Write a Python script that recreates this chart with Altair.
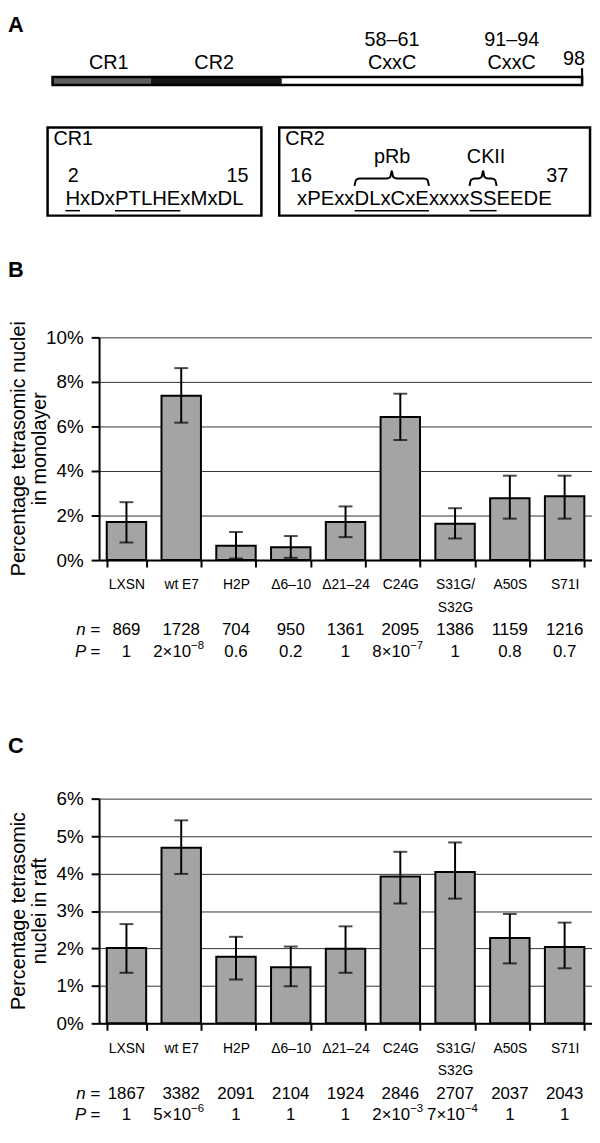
import altair as alt
import pandas as pd

FONT = "Liberation Sans"

# ---------------- Panel A data ----------------
seg_start = [1, 19, 43]
seg_end = [19, 43, 98]
seg_fill = ["#5e5e5e", "#161616", "#ffffff"]

a_label_text = ["CR1", "CR2", "58–61", "CxxC", "91–94", "CxxC", "98"]
a_label_res = [11.3, 30.6, 63.2, 63.2, 85.1, 85.1, 96.5]
a_label_row = [50, 50, 27, 50, 27, 50, 46]

seq1 = "HxDxPTLHExMxDL"
seq2 = "xPExxDLxCxExxxxSSEEDE"
seq1_under = [(0, 1), (4, 9)]
seq2_under = [(5, 11), (15, 17)]

# ---------------- Panels B / C data ----------------
categories = ["LXSN", "wt E7", "H2P", "Δ6–10", "Δ21–24", "C24G", "S31G/S32G", "A50S", "S71I"]

b_mean = [1.71, 7.38, 0.64, 0.58, 1.71, 6.42, 1.63, 2.78, 2.87]
b_lo = [0.79, 6.17, 0.07, 0.10, 1.03, 5.39, 0.97, 1.86, 1.86]
b_hi = [2.60, 8.62, 1.26, 1.08, 2.41, 7.47, 2.33, 3.79, 3.79]
b_n = ["869", "1728", "704", "950", "1361", "2095", "1386", "1159", "1216"]
b_p = ["1", "2×10^−8", "0.6", "0.2", "1", "8×10^−7", "1", "0.8", "0.7"]

c_mean = [2.01, 4.69, 1.78, 1.50, 1.99, 3.92, 4.04, 2.28, 2.04]
c_lo = [1.35, 3.99, 1.17, 0.99, 1.35, 3.20, 3.33, 1.60, 1.47]
c_hi = [2.65, 5.42, 2.31, 2.05, 2.59, 4.58, 4.83, 2.92, 2.69]
c_n = ["1867", "3382", "2091", "2104", "1924", "2846", "2707", "2037", "2043"]
c_p = ["1", "5×10^−6", "1", "1", "1", "2×10^−3", "7×10^−4", "1", "1"]

# Arial / Liberation Sans advance widths (em) for layout of underlines
CW = {"H": .722, "x": .5, "D": .722, "P": .667, "T": .611, "L": .556, "E": .667,
      "M": .833, "C": .722, "S": .667}
SEQ_SIZE = 20.5


def char_span(seq, i0, i1, left, size):
    a = left + sum(CW[c] for c in seq[:i0]) * size
    b = left + sum(CW[c] for c in seq[:i1]) * size
    return a, b


res_scale = alt.Scale(domain=[1, 98], range=[-47, 488], nice=False, zero=False)
pix_x = alt.Scale(domain=[-100, 500], range=[-100, 500], nice=False, zero=False)
pix_y = alt.Scale(domain=[0, 220], range=[0, 220], nice=False, zero=False)

# protein bar
seg_df = pd.DataFrame({"s": seg_start, "e": seg_end, "f": seg_fill, "y1": 64, "y2": 72})
segs = alt.Chart(seg_df).mark_rect(strokeWidth=0).encode(
    x=alt.X("s:Q", scale=res_scale, axis=None), x2="e:Q",
    y=alt.Y("y1:Q", scale=pix_y, axis=None), y2="y2:Q",
    fill=alt.Fill("f:N", scale=None))
outline = alt.Chart(pd.DataFrame({"s": [seg_start[0]], "e": [seg_end[-1]], "y1": [64], "y2": [72]})).mark_rect(
    fillOpacity=0, stroke="black", strokeWidth=2.5).encode(
    x=alt.X("s:Q", scale=res_scale, axis=None), x2="e:Q",
    y=alt.Y("y1:Q", scale=pix_y, axis=None), y2="y2:Q")
endtick = alt.Chart(pd.DataFrame({"r": [98], "y1": [55], "y2": [72]})).mark_rule(
    color="black", strokeWidth=2).encode(
    x=alt.X("r:Q", scale=res_scale, axis=None),
    y=alt.Y("y1:Q", scale=pix_y, axis=None), y2="y2:Q")
alabels = alt.Chart(pd.DataFrame({"t": a_label_text, "r": a_label_res, "ty": a_label_row})).mark_text(
    font=FONT, fontSize=20, baseline="middle", align="center", color="black").encode(
    x=alt.X("r:Q", scale=res_scale, axis=None),
    y=alt.Y("ty:Q", scale=pix_y, axis=None), text="t:N")

# boxes
box_df = pd.DataFrame({"x1": [-52, 182], "x2": [164, 496], "y1": [115, 115], "y2": [204, 204]})
boxes = alt.Chart(box_df).mark_rect(fillOpacity=0, stroke="black", strokeWidth=2.5).encode(
    x=alt.X("x1:Q", scale=pix_x, axis=None), x2="x2:Q",
    y=alt.Y("y1:Q", scale=pix_y, axis=None), y2="y2:Q")


def ptext(texts, xs, ys, align, size=20, weight="normal"):
    df = pd.DataFrame({"t": texts, "px": xs, "py": ys})
    return alt.Chart(df).mark_text(font=FONT, fontSize=size, align=align, baseline="middle",
                                   fontWeight=weight, color="black").encode(
        x=alt.X("px:Q", scale=pix_x, axis=None),
        y=alt.Y("py:Q", scale=pix_y, axis=None), text="t:N")


seq1_left, seq2_left = -34, 200
t_left = ptext(["CR1", "CR2", "16"], [-46, 188, 193], [127, 127, 164], "left")
t_seq = ptext([seq1, seq2], [seq1_left, seq2_left], [187, 187], "left", SEQ_SIZE)
t_center = ptext(["2", "pRb", "CKII"], [-26, 296, 391], [164, 145, 145], "center")
t_right = ptext(["15", "37"], [151, 474], [164, 164], "right")

ul_rows = []
for (i0, i1) in seq1_under:
    a, b = char_span(seq1, i0, i1, seq1_left, SEQ_SIZE)
    ul_rows.append({"ux1": a, "ux2": b, "uy": 199})
for (i0, i1) in seq2_under:
    a, b = char_span(seq2, i0, i1, seq2_left, SEQ_SIZE)
    ul_rows.append({"ux1": a, "ux2": b, "uy": 199})
underlines = alt.Chart(pd.DataFrame(ul_rows)).mark_rule(color="black", strokeWidth=1.5).encode(
    x=alt.X("ux1:Q", scale=pix_x, axis=None), x2="ux2:Q",
    y=alt.Y("uy:Q", scale=pix_y, axis=None))

brace_rows = []
for k, (i0, i1) in enumerate(seq2_under):
    x0, x1 = char_span(seq2, i0, i1, seq2_left, SEQ_SIZE)
    xc = (x0 + x1) / 2
    yt, yb = 159, 174
    ym = (yt + yb) / 2
    pts = [(x0, yb), (x0 + 1.5, ym + 1.5), (x0 + 5, ym), (xc - 5, ym), (xc - 1.5, ym - 1.5), (xc, yt),
           (xc + 1.5, ym - 1.5), (xc + 5, ym), (x1 - 5, ym), (x1 - 1.5, ym + 1.5), (x1, yb)]
    for (bx, by) in pts:
        brace_rows.append({"bx": bx, "by": by, "bid": k})
braces = alt.Chart(pd.DataFrame(brace_rows)).mark_line(color="black", strokeWidth=2,
                                                        interpolate="monotone").encode(
    x=alt.X("bx:Q", scale=pix_x, axis=None),
    y=alt.Y("by:Q", scale=pix_y, axis=None), detail="bid:N")

letterA = ptext(["A"], [-92], [11], "left", 22, "bold")

panelA = alt.layer(segs, outline, endtick, alabels, boxes, t_left, t_seq, t_center, t_right,
                   underlines, braces, letterA).resolve_scale(x="independent").properties(
    width=498, height=86)


# ---------------- bar panels ----------------
def bar_panel(letter, letter_y, mean, lo, hi, n, p, ymax, step, title_lines, h):
    plain = [v if "^" not in v else "" for v in p]
    base_s = [v.split("^")[0] if "^" in v else "" for v in p]
    exp_s = [v.split("^")[1] if "^" in v else "" for v in p]
    df = pd.DataFrame({"cat": categories, "mean": mean, "lo": lo, "hi": hi, "n": n,
                       "p": plain, "pb": base_s, "pe": exp_s})
    xs = alt.X("cat:N", sort=categories,
               scale=alt.Scale(paddingInner=0.28, paddingOuter=0.14),
               axis=alt.Axis(title=None, labelAngle=0, tickBand="extent", ticks=True, tickSize=7,
                             tickWidth=2, tickColor="black", domainColor="black", domainWidth=2,
                             labelFont=FONT, labelFontSize=14, labelColor="black", labelPadding=11,
                             labelLineHeight=23, grid=False,
                             labelExpr="datum.label == 'S31G/S32G' ? ['S31G/', 'S32G'] : datum.label"))
    yscale = alt.Scale(domain=[0, ymax], nice=False)
    yaxis = alt.Axis(title=None, values=list(range(0, ymax + 1, step)),
                     labelExpr="datum.value + '%'", grid=True, gridColor="#333",
                     gridWidth=1, tickSize=8, tickWidth=2, tickColor="black",
                     domainColor="black", domainWidth=2, labelFont=FONT, labelFontSize=19,
                     labelPadding=8, labelColor="black")
    base = alt.Chart(df)
    bars = base.mark_bar(fill="#a4a4a4", stroke="black", strokeWidth=2).encode(
        x=xs, y=alt.Y("mean:Q", scale=yscale, axis=yaxis))
    err = base.mark_rule(color="black", strokeWidth=2).encode(
        x=xs, y=alt.Y("lo:Q", scale=yscale, axis=yaxis), y2="hi:Q")
    cap_hi = base.mark_tick(color="black", size=14, thickness=2).encode(
        x=xs, y=alt.Y("hi:Q", scale=yscale, axis=yaxis))
    cap_lo = base.mark_tick(color="black", size=14, thickness=2).encode(
        x=xs, y=alt.Y("lo:Q", scale=yscale, axis=yaxis))
    ntext = base.mark_text(font=FONT, fontSize=17, baseline="middle", color="black").encode(
        x=xs, y=alt.value(h + 71), text="n:N")
    ptext_ = base.mark_text(font=FONT, fontSize=17, baseline="middle", color="black").encode(
        x=xs, y=alt.value(h + 93), text="p:N")
    pbase = base.mark_text(font=FONT, fontSize=17, baseline="middle", align="right", dx=10,
                           color="black").encode(x=xs, y=alt.value(h + 93), text="pb:N")
    pexp = base.mark_text(font=FONT, fontSize=11.5, baseline="middle", align="left", dx=10, dy=-6,
                          color="black").encode(x=xs, y=alt.value(h + 93), text="pe:N")
    one = alt.Chart(pd.DataFrame({"z": [0]}))
    nlab = one.mark_text(text="n =", font=FONT, fontSize=17, fontStyle="italic", align="right",
                         baseline="middle", color="black").encode(x=alt.value(1), y=alt.value(h + 71))
    plab = one.mark_text(text="P =", font=FONT, fontSize=17, fontStyle="italic", align="right",
                         baseline="middle", color="black").encode(x=alt.value(1), y=alt.value(h + 93))
    let = one.mark_text(text=letter, font=FONT, fontSize=22, fontWeight="bold", align="left",
                        baseline="middle", color="black").encode(x=alt.value(-92), y=alt.value(letter_y))
    t1 = one.mark_text(text=title_lines[0], font=FONT, fontSize=20, angle=270, align="center",
                       baseline="middle", color="black").encode(x=alt.value(-80.5), y=alt.value(h / 2))
    t2 = one.mark_text(text=title_lines[1], font=FONT, fontSize=20, angle=270, align="center",
                       baseline="middle", color="black").encode(x=alt.value(-59.5), y=alt.value(h / 2))
    return alt.layer(bars, err, cap_hi, cap_lo, ntext, ptext_, pbase, pexp, nlab, plab, let,
                     t1, t2).properties(width=498, height=h)


panelB = bar_panel("B", -68, b_mean, b_lo, b_hi, b_n, b_p, 10, 2,
                   ["Percentage tetrasomic nuclei", "in monolayer"], 225)
panelC = bar_panel("C", -53, c_mean, c_lo, c_hi, c_n, c_p, 6, 1,
                   ["Percentage tetrasomic", "nuclei in raft"], 227)

chart = alt.vconcat(panelA, panelB, panelC, spacing=241, bounds="flush").properties(
    padding=0).configure(font=FONT).configure_view(stroke=None)

chart.save("out.html", embed_options={"renderer": "svg", "actions": False})
